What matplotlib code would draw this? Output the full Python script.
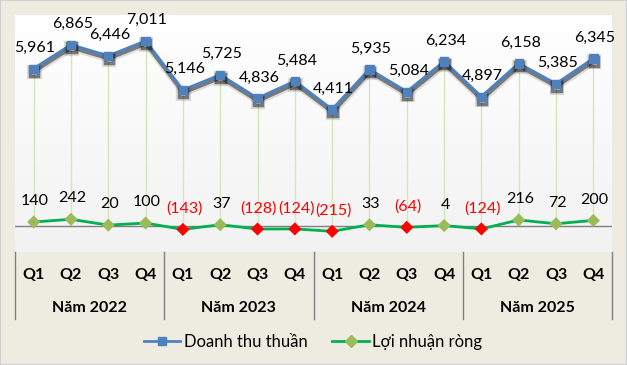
import numpy as np
import matplotlib
matplotlib.use('Agg')
import matplotlib.pyplot as plt
import matplotlib.patheffects as pe
from matplotlib.lines import Line2D

# --- data ---
quarters = ["Q1", "Q2", "Q3", "Q4"] * 4
years = ["Năm 2022", "Năm 2023", "Năm 2024", "Năm 2025"]
revenue = [5961, 6865, 6446, 7011, 5146, 5725, 4836, 5484,
           4411, 5935, 5084, 6234, 4897, 6158, 5385, 6345]
profit = [140, 242, 20, 100, -143, 37, -128, -124,
          -215, 33, -64, 4, -124, 216, 72, 200]
series_names = ["Doanh thu thuần", "Lợi nhuận ròng"]

plt.rcParams['font.family'] = ['Lato', 'DejaVu Sans']

BG = "#EEECE1"
BLUE = "#4F81BD"
GREEN = "#00B050"
DIAMOND = "#9BBB59"
RED = "#FF0000"

fig = plt.figure(figsize=(6.27, 3.65), dpi=100, facecolor=BG)
fig.patches.append(plt.Rectangle((0, 0), 1, 1, transform=fig.transFigure,
                                 fill=False, edgecolor="#D0D0D0", lw=1.5))
ax = fig.add_axes([15 / 627, 1 - 252 / 365, 597 / 627, 237 / 365])
ax.set_xlim(-0.5, 15.5)
ax.set_ylim(-1000, 8000)
for s in ax.spines.values():
    s.set_visible(False)
ax.set_xticks([])
ax.set_yticks([])

# gradient background of plot area
grad = np.linspace(1.0, 0.95, 100).reshape(-1, 1)
ax.imshow(np.dstack([grad, grad, grad]), extent=[0, 1, 0, 1], transform=ax.transAxes,
          aspect='auto', zorder=0)

x = np.arange(len(revenue))

# drop lines
ax.vlines(x, [min(0, p) for p in profit], revenue, color="#D7E4BD", lw=1, zorder=1)
ax.axhline(0, color="#808080", lw=1, zorder=2)

# revenue line with shadow below
shadow = [pe.SimpleLineShadow(offset=(0.5, -2.5), shadow_color='k', alpha=0.12, linewidth=4.5),
          pe.SimpleLineShadow(offset=(0.3, -2), shadow_color='k', alpha=0.45, linewidth=2.5),
          pe.Normal()]
ax.plot(x, revenue, color=BLUE, lw=2.2, marker='s', ms=6, mfc=BLUE, mec=BLUE,
        zorder=4, path_effects=shadow)

# profit line
ax.plot(x, profit, color=GREEN, lw=2, zorder=3)
mcolors = [RED if p < 0 else DIAMOND for p in profit]
ax.scatter(x, profit, marker='D', s=45, c=mcolors, edgecolors='none', zorder=5)

for xi, v in zip(x, revenue):
    ax.annotate(f"{v:,}", (xi, v), xytext=(1, 15), textcoords='offset points',
                ha='center', va='center', fontsize=11.5, color='black', zorder=6)
for xi, v in zip(x, profit):
    txt = f"({abs(v):,})" if v < 0 else f"{v:,}"
    ax.annotate(txt, (xi, v), xytext=(1, 15), textcoords='offset points',
                ha='center', va='center', fontsize=11.5,
                color=RED if v < 0 else 'black', zorder=6)

# category axis labels
for xi, q in zip(x, quarters):
    ax.text(xi, -0.097, q, transform=ax.get_xaxis_transform(), ha='center', va='center',
            fontsize=11.5, fontweight='bold')
for k, yr in enumerate(years):
    ax.text(4 * k + 1.5, -0.236, yr, transform=ax.get_xaxis_transform(), ha='center',
            va='center', fontsize=11.5, fontweight='bold')
for b in [-0.5, 3.5, 7.5, 11.5, 15.5]:
    ax.plot([b, b], [0, -0.283], transform=ax.get_xaxis_transform(), color="#808080",
            lw=1, clip_on=False)

handles = [Line2D([], [], color=BLUE, lw=2, marker='s', ms=6),
           Line2D([], [], color=GREEN, lw=2, marker='D', ms=6, mfc=DIAMOND, mec=DIAMOND)]
fig.legend(handles, series_names, loc='center', bbox_to_anchor=(313 / 627, 1 - 342 / 365),
           ncol=2, frameon=False, fontsize=12, handlelength=2.2, handletextpad=0.2,
           columnspacing=1.5)

fig.savefig("out.png", dpi=100, facecolor=BG)
